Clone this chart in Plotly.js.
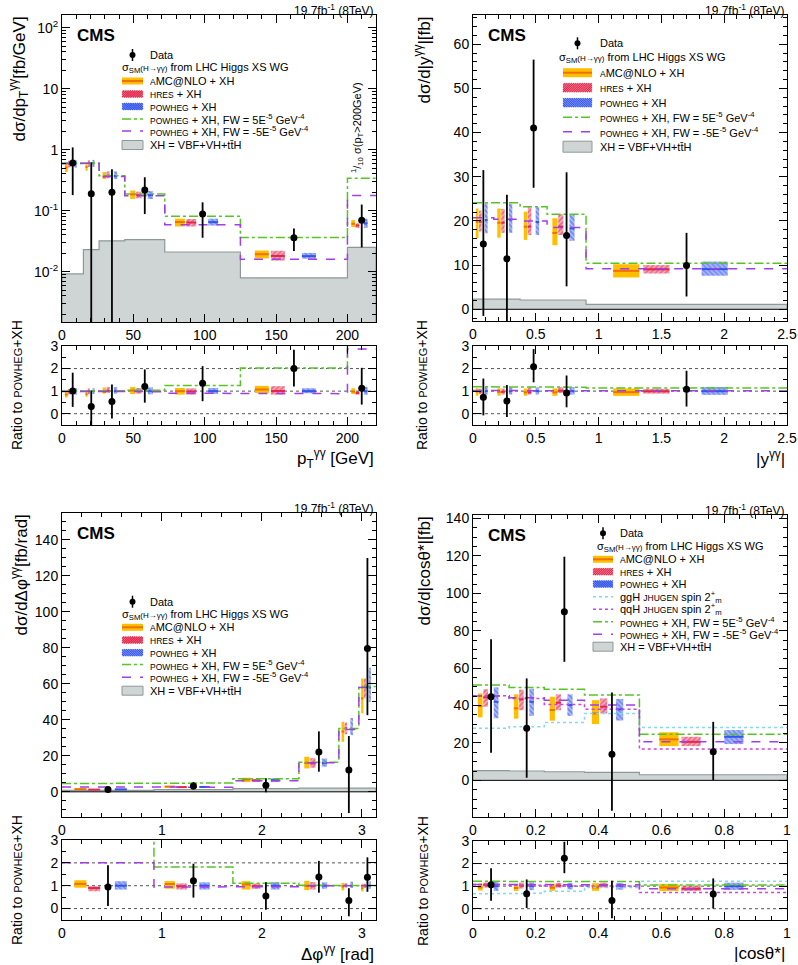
<!DOCTYPE html>
<html><head><meta charset="utf-8">
<script src="https://cdn.plot.ly/plotly-3.0.1.min.js"></script>
<style>body{margin:0;padding:0;background:#fff}#plot{width:798px;height:965px}</style>
</head><body><div id="plot"></div>
<script>
// ---------------- DATA ----------------
// pT(gg)
const ptEdges=[0,15,26,44,72,125,200,220];
const ptData=[0.605,0.19,0.20,0.218,0.088,0.036,0.070];
const ptDataHi=[1.09,0.62,0.48,0.353,0.137,0.051,0.126];
const ptDataLo=[0.18,-0.32,-0.08,0.088,0.036,0.0218,0.025];
const ptAmc=[0.51,0.52,0.36,0.185,0.065,0.0193,0.061];
const ptAmcLo=[0.43,0.45,0.33,0.156,0.055,0.0165,0.054];
const ptAmcHi=[0.58,0.58,0.43,0.214,0.074,0.0222,0.070];
const ptHres=[0.59,0.60,0.375,0.180,0.064,0.0181,0.057];
const ptHresLo=[0.51,0.52,0.34,0.160,0.055,0.0152,0.052];
const ptHresHi=[0.66,0.67,0.44,0.205,0.073,0.0220,0.062];
const ptPow=[0.60,0.60,0.37,0.180,0.065,0.0180,0.062];
const ptPowLo=[0.51,0.52,0.33,0.155,0.057,0.0163,0.052];
const ptPowHi=[0.68,0.68,0.44,0.210,0.074,0.0203,0.074];
const ptFWp=[0.605,0.60,0.375,0.187,0.081,0.0365,0.34];
const ptFWm=[0.59,0.60,0.365,0.176,0.059,0.016,0.178];
const ptXH=[0.0092,0.023,0.032,0.0335,0.021,0.0079,0.025];
// |y(gg)|
const yEdges=[0,0.165,0.375,0.59,0.9,2.5];
const yData=[14.8,11.45,41.0,16.7,9.9];
const yDataHi=[31.5,25.9,56.5,31.0,17.3];
const yDataLo=[-1.5,-3.0,27.5,5.2,2.9];
const yAmc=[19.8,19.6,18.7,17.3,8.7];
const yAmcLo=[16.1,16.2,15.7,14.5,7.2];
const yAmcHi=[22.8,22.8,22.1,20.6,10.2];
const yHres=[19.8,19.6,18.7,18.7,9.05];
const yHresLo=[17.6,17.3,16.8,16.8,8.1];
const yHresHi=[22.3,22.7,23.1,21.5,10.0];
const yPow=[20.2,20.3,19.75,18.3,9.1];
const yPowLo=[17.2,17.3,16.8,15.5,7.6];
const yPowHi=[24.0,23.9,23.1,21.5,10.8];
const yFWp=[24.1,24.1,23.2,21.5,10.4];
const yFWm=[20.7,20.4,20.0,18.5,9.2];
const yXH=[2.3,2.3,2.1,2.1,1.1];
// dphi(gg)
const dpEdges=[0,0.92,1.71,2.37,2.77,2.97,Math.PI];
const dpData=[1.3,3.3,3.6,22.2,12.1,79.7];
const dpDataHi=[2.6,5.3,7.5,33.6,31.0,130];
const dpDataLo=[0.15,1.3,-0.3,11.2,-11.8,42.6];
const dpAmc=[1.48,2.9,6.85,16.0,33.5,51.9];
const dpAmcLo=[1.25,2.35,5.4,13.0,27.8,43.6];
const dpAmcHi=[1.7,3.25,7.8,19.5,38.9,63.0];
const dpHres=[1.23,2.62,6.35,15.8,35.3,58.3];
const dpHresLo=[1.04,2.25,5.6,13.4,32.0,52.0];
const dpHresHi=[1.34,2.97,7.1,18.7,38.5,63.0];
const dpPow=[1.37,2.7,6.5,16.1,34.8,58.0];
const dpPowLo=[1.14,2.25,5.4,14.0,31.5,50.0];
const dpPowHi=[1.64,3.1,7.5,18.5,41.0,69.0];
const dpFWp=[4.6,4.9,7.2,16.4,35.2,58.5];
const dpFWm=[2.74,2.55,6.2,16.1,34.6,58.0];
const dpXH=[0.8,1.2,1.8,2.0,2.0,2.0];
// |cos theta*|
const ctEdges=[0,0.115,0.227,0.355,0.53,1];
const ctData=[44.7,27.8,90.2,13.9,15.3];
const ctDataHi=[75.4,54.5,119.6,47.0,31.3];
const ctDataLo=[14.8,1.4,63.4,-16.2,0.2];
const ctAmc=[39.7,38.5,37.6,35.8,21.9];
const ctAmcLo=[33.7,33.0,31.9,30.1,18.3];
const ctAmcHi=[46.5,46.0,44.7,42.9,25.7];
const ctHres=[44.4,43.3,41.5,39.4,20.6];
const ctHresLo=[39.4,37.5,37.5,35.8,18.3];
const ctHresHi=[48.7,48.5,46.0,43.8,23.3];
const ctPow=[42.0,42.0,40.3,38.0,23.3];
const ctPowLo=[33.2,34.5,34.5,32.0,19.4];
const ctPowHi=[49.7,49.0,46.0,43.5,26.9];
const ctFWp=[51.0,49.7,48.7,45.6,24.6];
const ctFWm=[45.1,44.2,42.9,40.3,20.7];
const ctGgH=[27.8,28.7,31.0,35.8,28.3];
const ctQqH=[45.2,43.8,40.6,38.0,16.7];
const ctXH=[5.2,5.0,4.6,4.3,3.0];

// ---------------- STYLE ----------------
const W=798,H=965;
const FONT='Liberation Sans, Arial, Helvetica, sans-serif';
const COL={amc:'#ffbf00',amcLine:'#f07000',hres:'#e3264a',hresBg:'rgba(240,110,135,0.5)',
  pow:'#3355ee',powBg:'rgba(110,135,245,0.5)',fwp:'#55c524',fwm:'#a23ee6',ggh:'#7fdcf0',qqh:'#cc44dd',
  xhFill:'#cfd5d5',xhLine:'#8d9898'};
const FR={amc:0.2,hres:0.35,pow:0.64}, WF=0.13;

const panels=[
 {edges:ptEdges,data:[ptData,ptDataLo,ptDataHi],amc:[ptAmc,ptAmcLo,ptAmcHi],hres:[ptHres,ptHresLo,ptHresHi],
  pow:[ptPow,ptPowLo,ptPowHi],fwp:ptFWp,fwm:ptFWm,xh:ptXH,
  px:[62,376],pm:[15,322],pr:[346,425],xr:[0,220],yr:[-2.825,2.208],log:true,xdt:50,xmin:10},
 {edges:yEdges,data:[yData,yDataLo,yDataHi],amc:[yAmc,yAmcLo,yAmcHi],hres:[yHres,yHresLo,yHresHi],
  pow:[yPow,yPowLo,yPowHi],fwp:yFWp,fwm:yFWm,xh:yXH,
  px:[473,787],pm:[15,321],pr:[346,425],xr:[0,2.5],yr:[-2.65,66.6],xdt:0.5,xmin:0.1,ydt:10,ymin:2},
 {edges:dpEdges,data:[dpData,dpDataLo,dpDataHi],amc:[dpAmc,dpAmcLo,dpAmcHi],hres:[dpHres,dpHresLo,dpHresHi],
  pow:[dpPow,dpPowLo,dpPowHi],fwp:dpFWp,fwm:dpFWm,xh:dpXH,
  px:[62,376],pm:[513,817],pr:[840,920],xr:[0,Math.PI],yr:[-14,155],xdt:1,xmin:0.2,ydt:20,ymin:5},
 {edges:ctEdges,data:[ctData,ctDataLo,ctDataHi],amc:[ctAmc,ctAmcLo,ctAmcHi],hres:[ctHres,ctHresLo,ctHresHi],
  pow:[ctPow,ctPowLo,ctPowHi],fwp:ctFWp,fwm:ctFWm,ggh:ctGgH,qqh:ctQqH,xh:ctXH,
  px:[473,787],pm:[515,817],pr:[841,920],xr:[0,1],yr:[-19.6,141.9],xdt:0.2,xmin:0.05,ydt:20,ymin:5}
];

const traces=[], shapes=[], annotations=[], layout={};
const PX=x=>x/W, PY=y=>1-y/H;

function stepXY(edges,vals){const x=[],y=[];vals.forEach((v,i)=>{x.push(edges[i],edges[i+1]);y.push(v,v);});return {x,y};}
function centers(edges,fr){return edges.slice(0,-1).map((e,i)=>e+fr*(edges[i+1]-e));}
function widths(edges){return edges.slice(0,-1).map((e,i)=>WF*(edges[i+1]-e));}
function segs(edges,fr,vals){const x=[],y=[];vals.forEach((v,i)=>{const bw=edges[i+1]-edges[i],c=edges[i]+fr*bw,w=WF*bw;x.push(c-w/2,c+w/2,null);y.push(v,v,null);});return {x,y};}

function addSet(p,xa,ya,ratio){
  const e=p.edges, n=p.pow[0];
  const f=arr=>ratio?arr.map((v,i)=>v/n[i]):arr;
  const base={xaxis:xa,yaxis:ya,hoverinfo:'skip',showlegend:false};
  if(!ratio){
    const s=stepXY(e,p.xh), b=p.log?1e-6:0;
    traces.push(Object.assign({type:'scatter',mode:'lines',x:[e[0],...s.x,e[e.length-1]],y:[b,...s.y,b],
      fill:'toself',fillcolor:COL.xhFill,line:{color:COL.xhLine,width:1.2}},base));
  }
  const boxes=[['amc',{color:COL.amc,line:{width:0}}],
    ['hres',{color:COL.hresBg,line:{width:0},pattern:{shape:'/',fgcolor:COL.hres,size:3.5,solidity:0.6,fillmode:'overlay'}}],
    ['pow',{color:COL.powBg,line:{width:0},pattern:{shape:'\\',fgcolor:COL.pow,size:3.5,solidity:0.6,fillmode:'overlay'}}]];
  boxes.forEach(([k,m])=>{
    const lo=f(p[k][1]), hi=f(p[k][2]);
    traces.push(Object.assign({type:'bar',x:centers(e,FR[k]),width:widths(e),base:lo,y:hi.map((h,i)=>h-lo[i]),
      marker:m,textposition:'none'},base));
  });
  [['amc',COL.amcLine],['hres',COL.hres],['pow',COL.pow]].forEach(([k,c])=>{
    const s=segs(e,FR[k],f(p[k][0]));
    traces.push(Object.assign({type:'scatter',mode:'lines',x:s.x,y:s.y,line:{color:c,width:2}},base));
  });
  const lines=[['ggh',COL.ggh,'dot'],['qqh',COL.qqh,'dot'],['fwp',COL.fwp,'dashdot'],['fwm',COL.fwm,'dash']];
  lines.forEach(([k,c,d])=>{
    if(!p[k]) return;
    const s=stepXY(e,f(p[k]));
    traces.push(Object.assign({type:'scatter',mode:'lines',x:s.x,y:s.y,line:{color:c,width:1.5,dash:d}},base));
  });
  const d=f(p.data[0]), lo=f(p.data[1]), hi=f(p.data[2]);
  traces.push(Object.assign({type:'scatter',mode:'markers',x:centers(e,0.5),y:d,
    error_y:{type:'data',symmetric:false,array:hi.map((h,i)=>h-d[i]),arrayminus:d.map((v,i)=>v-lo[i]),
      width:0,thickness:1.8,color:'black'},
    marker:{color:'black',size:7}},base));
}

function axBase(extra){
  return Object.assign({showline:true,linecolor:'black',linewidth:1,mirror:'allticks',ticks:'inside',ticklen:8,
    tickcolor:'black',tickwidth:1,showgrid:false,zeroline:false,fixedrange:true,
    tickfont:{family:FONT,size:14,color:'black'}},extra);
}

panels.forEach((p,i)=>{
  const mi=2*i+1, ri=2*i+2;
  const xm='x'+(mi===1?'':mi), ym='y'+(mi===1?'':mi), xr='x'+ri, yr='y'+ri;
  const xdom=[PX(p.px[0]),PX(p.px[1])];
  const xcommon={range:p.xr,dtick:p.xdt,tick0:0,minor:{ticks:'inside',ticklen:4,dtick:p.xmin,tick0:0,tickcolor:'black',showgrid:false}};
  layout['xaxis'+(mi===1?'':mi)]=axBase(Object.assign({domain:xdom,anchor:ym},xcommon));
  layout['xaxis'+ri]=axBase(Object.assign({domain:xdom,anchor:yr},JSON.parse(JSON.stringify(xcommon))));
  const ydom=[PY(p.pm[1]),PY(p.pm[0])];
  if(p.log){
    const mv=[];for(let dd=-3;dd<=2;dd++)for(let k=2;k<=9;k++)mv.push(k*Math.pow(10,dd));
    layout['yaxis'+(mi===1?'':mi)]=axBase({domain:ydom,anchor:xm,type:'log',range:p.yr,
      tickmode:'array',tickvals:[0.01,0.1,1,10,100],ticktext:['10<sup>-2</sup>','10<sup>-1</sup>','1','10','10<sup>2</sup>'],
      minor:{ticks:'inside',ticklen:4,tickmode:'array',tickvals:mv,tickcolor:'black',showgrid:false}});
  } else {
    layout['yaxis'+(mi===1?'':mi)]=axBase({domain:ydom,anchor:xm,range:p.yr,dtick:p.ydt,tick0:0,
      minor:{ticks:'inside',ticklen:4,dtick:p.ymin,tick0:0,tickcolor:'black',showgrid:false}});
    shapes.push({type:'line',xref:xm+' domain',yref:ym,x0:0,x1:1,y0:0,y1:0,line:{color:'black',width:1},layer:'above'});
  }
  layout['yaxis'+ri]=axBase({domain:[PY(p.pr[1]),PY(p.pr[0])],anchor:xr,range:[-0.5,3],dtick:1,tick0:0,
    minor:{ticks:'inside',ticklen:4,dtick:0.5,tick0:0,tickcolor:'black',showgrid:false}});
  [0,1,2].forEach(v=>shapes.push({type:'line',xref:xr+' domain',yref:yr,x0:0,x1:1,y0:v,y1:v,
    line:{color:'#555',width:1,dash:'dot'},layer:'below'}));
  addSet(p,xm,ym,false);
  addSet(p,xr,yr,true);
  annotations.push({xref:'paper',yref:'paper',x:PX(p.px[0]+13),y:PY(p.pm[0]+9),xanchor:'left',yanchor:'top',
    text:'<b>CMS</b>',showarrow:false,font:{family:FONT,size:17,color:'black'}});
  annotations.push({xref:'paper',yref:'paper',x:PX(p.px[1]),y:PY(p.pm[0]-15),xanchor:'right',yanchor:'top',
    text:'19.7fb<sup>-1</sup> (8TeV)',showarrow:false,font:{family:FONT,size:12,color:'black'}});
});

// axis titles
const titles=[
 {t:'dσ/dp<sub>T</sub><sup>γγ</sup>[fb/GeV]',x:19,y:15},
 {t:'dσ/d|y<sup>γγ</sup>|[fb]',x:422,y:15},
 {t:'dσ/dΔφ<sup>γγ</sup>[fb/rad]',x:19,y:513},
 {t:'dσ/d|cosθ*|[fb]',x:424,y:515}];
titles.forEach(o=>annotations.push({xref:'paper',yref:'paper',x:PX(o.x),y:PY(o.y),xanchor:'center',yanchor:'top',
  textangle:-90,text:o.t,showarrow:false,font:{family:FONT,size:17,color:'black'}}));
const rt='Ratio to <span style="font-size:11px">POWHEG</span>+XH';
[[17,385],[422,385],[17,880],[423,881]].forEach(([x,y])=>annotations.push({xref:'paper',yref:'paper',x:PX(x),y:PY(y),
  xanchor:'center',yanchor:'middle',textangle:-90,text:rt,showarrow:false,font:{family:FONT,size:14,color:'black'}}));
const xt=[['p<sub>T</sub><sup>γγ</sup> [GeV]',376,458],['|y<sup>γγ</sup>|',787,458],['Δφ<sup>γγ</sup> [rad]',376,953],['|cosθ*|',787,953]];
xt.forEach(([t,x,y])=>annotations.push({xref:'paper',yref:'paper',x:PX(x),y:PY(y),xanchor:'right',yanchor:'middle',
  text:t,showarrow:false,font:{family:FONT,size:17,color:'black'}}));
annotations.push({xref:'paper',yref:'paper',x:PX(357),y:PY(128),xanchor:'center',yanchor:'middle',textangle:-90,
  text:'<sup>1</sup>/<sub>10</sub> σ(p<sub>T</sub>&gt;200GeV)',showarrow:false,font:{family:FONT,size:11,color:'black'}});

// ---------------- LEGENDS ----------------
function rectPx(x0,y0,x1,y1,fill,line){shapes.push({type:'rect',xref:'paper',yref:'paper',x0:PX(x0),x1:PX(x1),y0:PY(y1),y1:PY(y0),fillcolor:fill,line:line||{width:0},layer:'above'});}
function linePx(x0,y0,x1,y1,color,width,dash){shapes.push({type:'line',xref:'paper',yref:'paper',x0:PX(x0),y0:PY(y0),x1:PX(x1),y1:PY(y1),line:{color:color,width:width,dash:dash||'solid'},layer:'above'});}
function hatchPx(x0,y0,x1,y1,color,dir,s){let d='';const w=x1-x0,h=y1-y0;
  for(let k=-h;k<w;k+=s){const t0=Math.max(0,-k),t1=Math.min(h,w-k);if(t1<=t0)continue;
    let ax,ay,bx,by;if(dir==='/'){ax=x0+k+t0;ay=y1-t0;bx=x0+k+t1;by=y1-t1;}else{ax=x0+k+t0;ay=y0+t0;bx=x0+k+t1;by=y0+t1;}
    d+='M'+PX(ax)+','+PY(ay)+'L'+PX(bx)+','+PY(by);}
  shapes.push({type:'path',xref:'paper',yref:'paper',path:d,line:{color:color,width:1.2},layer:'above'});}
function textPx(x,y,t,size){annotations.push({xref:'paper',yref:'paper',x:PX(x),y:PY(y),xanchor:'left',yanchor:'middle',
  text:t,showarrow:false,font:{family:FONT,size:size||11,color:'black'}});}
const SC=s=>'<span style="font-size:8.5px">'+s+'</span>';
const LBL={amc:SC('A')+'MC@NLO + XH',hres:SC('HRES')+' + XH',pow:SC('POWHEG')+' + XH',
  ggh:'ggH '+SC('JHUGEN')+' spin 2<sup>+</sup><sub>m</sub>',qqh:'qqH '+SC('JHUGEN')+' spin 2<sup>+</sup><sub>m</sub>',
  fwp:SC('POWHEG')+' + XH, FW = 5E<sup>-5</sup> GeV<sup>-4</sup>',fwm:SC('POWHEG')+' + XH, FW = -5E<sup>-5</sup> GeV<sup>-4</sup>',
  xh:'XH = VBF+VH+tt\u0304H'};
const legends=[
 {bx:[122,143],tx:148,sx:120,bh:7,rows:[['data',55],['sig',68.5],['amc',81],['hres',94],['pow',106.5],['fwp',119],['fwm',131],['xh',145]]},
 {bx:[563,592],tx:598,sx:557,bh:9,rows:[['data',43.3],['sig',58.3],['amc',72.7],['hres',87.7],['pow',102.7],['fwp',117.3],['fwm',131.7],['xh',146.7]]},
 {bx:[122,143],tx:148,sx:120,bh:7,rows:[['data',601.7],['sig',615],['amc',627.3],['hres',640],['pow',652.7],['fwp',664.5],['fwm',677.3],['xh',690.7]]},
 {bx:[593,613],tx:618,sx:595,bh:7,rows:[['data',533.3],['sig',546.7],['amc',559.3],['hres',571.7],['pow',584],['ggh',596.7],['qqh',609.3],['fwp',621.7],['fwm',634.3],['xh',646.7]]}
];
legends.forEach(L=>{
  const [x0,x1]=L.bx, xc=(x0+x1)/2, hb=L.bh/2;
  L.rows.forEach(([k,y])=>{
    if(k==='data'){
      linePx(xc,y-6,xc,y+6,'black',1.5);
      shapes.push({type:'circle',xref:'paper',yref:'paper',x0:PX(xc-3),x1:PX(xc+3),y0:PY(y+3),y1:PY(y-3),fillcolor:'black',line:{width:0},layer:'above'});
      textPx(L.tx,y,'Data');
    } else if(k==='sig'){
      textPx(L.sx,y,'σ<sub>SM</sub><span style="font-size:8px">(H→γγ)</span> from LHC Higgs XS WG');
    } else {
      if(k==='amc'){rectPx(x0,y-hb,x1,y+hb,COL.amc);linePx(x0,y,x1,y,COL.amcLine,2);}
      else if(k==='hres'){rectPx(x0,y-hb,x1,y+hb,COL.hresBg);hatchPx(x0,y-hb,x1,y+hb,COL.hres,'/',2.2);}
      else if(k==='pow'){rectPx(x0,y-hb,x1,y+hb,COL.powBg);hatchPx(x0,y-hb,x1,y+hb,COL.pow,'\\',2.2);}
      else if(k==='xh'){rectPx(x0,y-hb-1,x1,y+hb+1,COL.xhFill,{color:COL.xhLine,width:1});}
      else {const st={ggh:[COL.ggh,'dot'],qqh:[COL.qqh,'dot'],fwp:[COL.fwp,'dashdot'],fwm:[COL.fwm,'dash']}[k];
        linePx(x0,y,x1,y,st[0],1.5,st[1]);}
      textPx(L.tx,y,LBL[k]);
    }
  });
});

Object.assign(layout,{width:W,height:H,margin:{l:0,r:0,t:0,b:0},paper_bgcolor:'white',plot_bgcolor:'white',
  showlegend:false,barmode:'overlay',shapes:shapes,annotations:annotations,font:{family:FONT,color:'black'}});
Plotly.newPlot('plot',traces,layout,{staticPlot:true,displayModeBar:false});
</script></body></html>
